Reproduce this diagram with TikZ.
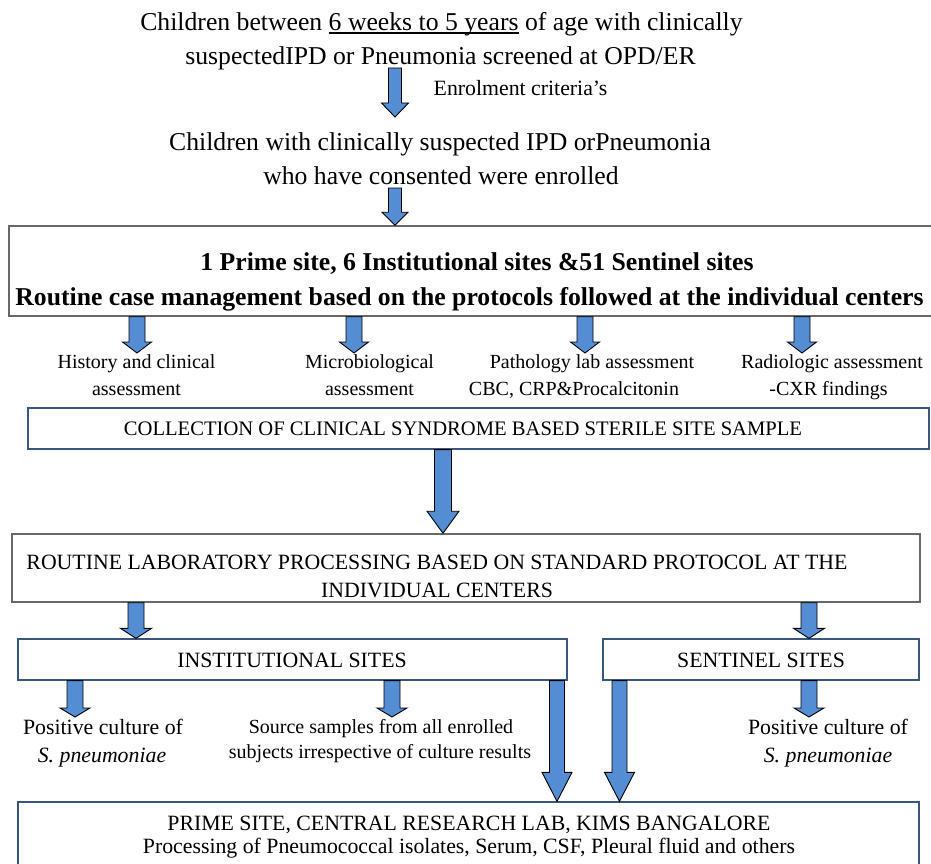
\documentclass[tikz,border=0pt]{standalone}
\usepackage{fontspec}
\setmainfont{Liberation Serif}
\usetikzlibrary{calc}
\definecolor{arrowfill}{RGB}{84,141,212}
\definecolor{boxblue}{RGB}{56,86,128}
\definecolor{boxgray}{RGB}{105,105,105}
\newcommand\myul[1]{\setbox0\hbox{#1}\rlap{\rule[-2.6pt]{\wd0}{1.1pt}}\box0\relax}
\newcommand\blockarrow[5]{%
  \path[blockarr] let \p1=(#4), \p2=(#5) in
   (\x1-#1pt,\y1) -- (\x1+#1pt,\y1) -- (\x1+#1pt,\y2+#3pt) -- (\x1+#2pt,\y2+#3pt)
   -- (\x1,\y2) -- (\x1-#2pt,\y2+#3pt) -- (\x1-#1pt,\y2+#3pt) -- cycle;}
\tikzset{
  blockarr/.style={fill=arrowfill, draw=black, line width=0.9pt, line join=miter},
  graybox/.style={draw=boxgray, line width=1.5pt, inner sep=0pt},
  bluebox/.style={draw=boxblue, line width=1.3pt, inner sep=0pt},
  big/.style={font=\fontsize{25.7}{30}\selectfont, inner sep=0pt, anchor=base},
  bigb/.style={font=\fontsize{25.7}{30}\selectfont\bfseries, inner sep=0pt, anchor=base},
  mid/.style={font=\fontsize{21.8}{26}\selectfont, inner sep=0pt, anchor=base},
  sml/.style={font=\fontsize{20}{24}\selectfont, inner sep=0pt, anchor=base},
}
\begin{document}
\begin{tikzpicture}[x=1pt,y=-1pt]
\useasboundingbox (0,0) rectangle (931,864);
% boxes
\node[graybox, minimum width=931pt, minimum height=90pt] (box1) at (474.5,271) {};
\node[bluebox, minimum width=901pt, minimum height=41pt] (coll) at (478.5,428.5) {};
\node[graybox, minimum width=908pt, minimum height=68pt] (rout) at (466,568) {};
\node[bluebox, minimum width=549pt, minimum height=41pt] (inst) at (292.5,659.5) {};
\node[bluebox, minimum width=316pt, minimum height=41pt] (sent) at (761,659.5) {};
\node[bluebox, minimum width=901pt, minimum height=78pt] (prime) at (468.5,841) {};
% texts
\node[big] (l1) at (441.5,31) {Children between \myul{6 weeks to 5 years} of age with clinically};
\node[big] (l2) at (440.5,65) {suspectedIPD or Pneumonia screened at OPD/ER};
\node[mid, anchor=base west] (enr) at (433.5,96) {Enrolment criteria’s};
\node[big] (l3) at (440,150) {Children with clinically suspected IPD orPneumonia};
\node[big] (l4) at (441,184) {who have consented were enrolled};
\node[bigb] (b1) at (477,270) {1 Prime site, 6 Institutional sites \&51 Sentinel sites};
\node[bigb] (b2) at (469.5,305) {Routine case management based on the protocols followed at the individual centers};
\node[sml] (h1) at (136.5,368) {History and clinical};
\node[sml] (h2) at (136.5,395) {assessment};
\node[sml] (m1) at (369.5,368) {Microbiological};
\node[sml] (m2) at (369.5,395) {assessment};
\node[sml] (p1) at (592,368) {Pathology lab assessment};
\node[sml] (p2) at (574,395) {CBC, CRP\&Procalcitonin};
\node[sml] (r1) at (832,368) {Radiologic assessment};
\node[sml] (r2) at (828.5,395) {-CXR findings};
\node[mid, font=\fontsize{20.6}{24}\selectfont] (ct) at (463,435) {COLLECTION OF CLINICAL SYNDROME BASED STERILE SITE SAMPLE};
\node[mid] (rt1) at (437,569) {ROUTINE LABORATORY PROCESSING BASED ON STANDARD PROTOCOL AT THE};
\node[mid] (rt2) at (437,597) {INDIVIDUAL CENTERS};
\node[mid] (it) at (292,667) {INSTITUTIONAL SITES};
\node[mid] (st) at (761,667) {SENTINEL SITES};
\node[mid] (pc1) at (103,734) {Positive culture of};
\node[mid] (pc2) at (102,762) {\itshape S. pneumoniae};
\node[sml] (ss1) at (381,733) {Source samples from all enrolled};
\node[sml] (ss2) at (380,758) {subjects irrespective of culture results};
\node[mid] (pr1) at (828,734) {Positive culture of};
\node[mid] (pr2) at (828,762) {\itshape S. pneumoniae};
\node[mid] (pt1) at (469,830) {PRIME SITE, CENTRAL RESEARCH LAB, KIMS BANGALORE};
\node[mid] (pt2) at (469,853) {Processing of Pneumococcal isolates, Serum, CSF, Pleural fluid and others};
% arrow coordinates
\coordinate (aAs) at (395,68);  \coordinate (aAt) at (395,117);
\coordinate (aBs) at (395,188);
\coordinate (x1) at (137,0); \coordinate (x2) at (354,0);
\coordinate (x3) at (585,0); \coordinate (x4) at (802,0);
\coordinate (t1) at (137,353); \coordinate (t2) at (354,353);
\coordinate (t3) at (585,353); \coordinate (t4) at (802,353);
\coordinate (xb) at (443,0);
\coordinate (xr1) at (136,0); \coordinate (xr2) at (809,0);
\coordinate (xi1) at (75,0); \coordinate (xi2) at (392,0);
\coordinate (ti1) at (75,717); \coordinate (ti2) at (392,717);
\coordinate (xl1) at (557,0); \coordinate (xl2) at (619.5,0);
\coordinate (ts) at (809,717);
% arrows
\blockarrow{6.5}{13.5}{14}{aAs}{aAt}
\blockarrow{6.5}{13}{13}{aBs}{box1.north -| aBs}
\blockarrow{8}{14.5}{11}{box1.south -| x1}{t1}
\blockarrow{8}{14.5}{11}{box1.south -| x2}{t2}
\blockarrow{8}{14.5}{11}{box1.south -| x3}{t3}
\blockarrow{8}{14.5}{11}{box1.south -| x4}{t4}
\blockarrow{8.5}{16}{22}{coll.south -| xb}{rout.north -| xb}
\blockarrow{8}{15.5}{10}{rout.south -| xr1}{inst.north -| xr1}
\blockarrow{8}{15.5}{10}{rout.south -| xr2}{sent.north -| xr2}
\blockarrow{8}{15}{9}{inst.south -| xi1}{ti1}
\blockarrow{8}{15}{9}{inst.south -| xi2}{ti2}
\blockarrow{7.5}{15}{29}{inst.south -| xl1}{prime.north -| xl1}
\blockarrow{7.5}{15}{29}{sent.south -| xl2}{prime.north -| xl2}
\blockarrow{8}{15}{9}{sent.south -| xr2}{ts}
\end{tikzpicture}
\end{document}
